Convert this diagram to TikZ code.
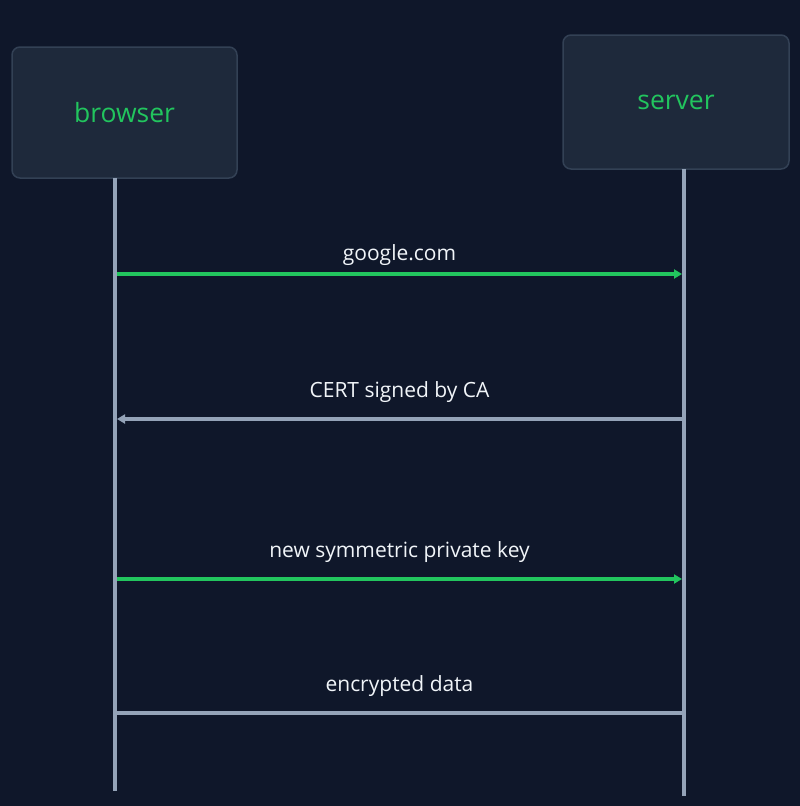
\documentclass[tikz,border=0pt]{standalone}
\usepackage{fontspec}
\setmainfont{Open Sans}
\usepackage{xcolor}
\usepackage{tikz}
\usetikzlibrary{arrows.meta}
\usetikzlibrary{positioning}

\definecolor{bgnavy}{HTML}{0F172A}
\definecolor{boxfill}{HTML}{1E293B}
\definecolor{boxline}{HTML}{334155}
\definecolor{actgreen}{HTML}{22C55E}
\definecolor{lifegray}{HTML}{94A3B8}
\definecolor{lbltext}{HTML}{F1F5F9}

\begin{document}
\begin{tikzpicture}[x=1pt,y=-1pt,semithick]
	\tikzstyle{actor}=[draw=boxline, line width=1.5pt, fill=boxfill, rounded corners=8pt, text=actgreen, font=\fontsize{26.5}{30}\selectfont]
	\tikzstyle{lifeline}=[draw=lifegray, line width=4pt]
	\tikzstyle{msg}=[line width=4pt, -{Triangle[length=8pt,width=9pt]}]
	\tikzstyle{lbl}=[text=lbltext, font=\fontsize{21}{24}\selectfont, above=11pt]
			\fill[bgnavy] (0,0) rectangle (800,806);
			\useasboundingbox (0,0) rectangle (800,806);
			\node[actor, minimum width=225pt, minimum height=131pt]  (browser) at (124.5,112.5) {browser};
			\node[actor, minimum width=226pt, minimum height=134pt]  (server) at (676,102) {\raisebox{-4pt}{server}};
			
			\coordinate (btop) at (115,178);
			\coordinate (bend) at (115,791);
			\coordinate (stop) at (684,169);
			\coordinate (send) at (684,796);
			\draw[lifeline] (btop) -- (bend);
			\draw[lifeline] (stop) -- (send);
			
				\foreach \y/\n in {274/1,419/2,579/3,713/4}{
					\coordinate (b\n) at (117,\y);
					\coordinate (s\n) at (682,\y);
					}
			\draw[msg, draw=actgreen, fill=actgreen] (b1) -- node[lbl, above=3pt] {google.com} (s1);
			\draw[msg, draw=lifegray, fill=lifegray] (s2) -- node[lbl] {CERT signed by CA} (b2);
			\draw[msg, draw=actgreen, fill=actgreen] (b3) -- node[lbl] {new symmetric private key} (s3);
			\draw[line width=4pt, draw=lifegray] (b4) -- node[lbl] {encrypted data} (s4);
\end{tikzpicture}
\end{document}
